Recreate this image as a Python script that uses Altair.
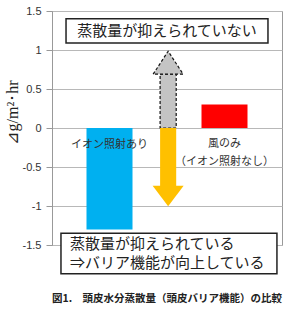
import altair as alt
import pandas as pd

# ---- data ----
categories = ["イオン照射あり", "風のみ"]
sublabel = "（イオン照射なし）"
values = [-1.3, 0.3]
colors = ["#00B0F0", "#FF0000"]
arrow_up = 1.0      # without-suppression reference arrow
arrow_down = -1.0   # suppression arrow
y_ticks = [-1.5, -1, -0.5, 0, 0.5, 1, 1.5]
top_note = "蒸散量が抑えられていない"
bottom_note = ["蒸散量が抑えられている", "⇒バリア機能が向上している"]
y_title = "⊿g/m²･hr"
caption = "図1.　頭皮水分蒸散量（頭皮バリア機能）の比較"

# ---- layout (x in a 0..10 layout scale) ----
bar_x = [2.5, 7.5]
bar_half = 1.0
arrow_x = 5.05
shaft_half = 0.35
up_head_base = 0.69
down_head_base = -0.74

JP = "Noto Sans CJK JP"

xs = alt.Scale(domain=[0, 10], nice=False, zero=False)
ys = alt.Scale(domain=[-1.5, 1.5], nice=False, zero=False)

bars_df = pd.DataFrame({
    "cat": categories, "v": values, "c": colors,
    "x1": [b - bar_half for b in bar_x], "x2": [b + bar_half for b in bar_x],
    "zero": [0, 0],
})

bars = alt.Chart(bars_df).mark_rect().encode(
    x=alt.X("x1:Q", scale=xs, axis=None),
    x2="x2:Q",
    y=alt.Y("zero:Q", scale=ys, title=y_title,
            axis=alt.Axis(values=y_ticks, tickCount=12, labelExpr="datum.value + ''",
                          labelOverlap=False, labelFlush=False,
                          grid=True, gridColor="#b8b8b8", domainColor="#999999",
                          tickColor="#999999", tickSize=6, labelPadding=5,
                          labelFont="Liberation Sans", labelFontSize=11,
                          labelColor="#333333", titleFont="Liberation Serif",
                          titleFontSize=16, titleFontWeight="normal",
                          titleColor="#222222", titleAngle=-90,
                          titleX=-40, titleY=101, titleAlign="center",
                          titleBaseline="middle")),
    y2="v:Q",
    color=alt.Color("c:N", scale=None),
)

# up (dashed, patterned) arrow
up_shaft_df = pd.DataFrame({"x1": [arrow_x - shaft_half], "x2": [arrow_x + shaft_half],
                            "y1": [0], "y2": [up_head_base]})
up_shaft = alt.Chart(up_shaft_df).mark_rect(
    fill="#c4c4c4", stroke="#111111", strokeDash=[3, 2], strokeWidth=1.2
).encode(x=alt.X("x1:Q", scale=xs), x2="x2:Q", y=alt.Y("y1:Q", scale=ys), y2="y2:Q")

up_head_df = pd.DataFrame({"x": [arrow_x], "y": [up_head_base]})
up_head = alt.Chart(up_head_df).mark_point(
    shape="M -1 0 L 0 -1.53 L 1 0 Z", size=900, filled=True, fill="#c4c4c4",
    stroke="#111111", strokeDash=[3, 2], strokeWidth=1.2, opacity=1
).encode(x=alt.X("x:Q", scale=xs), y=alt.Y("y:Q", scale=ys))

# down (orange) arrow
down_shaft_df = pd.DataFrame({"x1": [arrow_x - shaft_half], "x2": [arrow_x + shaft_half],
                              "y1": [0], "y2": [down_head_base - 0.01]})
down_shaft = alt.Chart(down_shaft_df).mark_rect(fill="#FFC000").encode(
    x=alt.X("x1:Q", scale=xs), x2="x2:Q", y=alt.Y("y1:Q", scale=ys), y2="y2:Q")

down_head_df = pd.DataFrame({"x": [arrow_x], "y": [down_head_base]})
down_head = alt.Chart(down_head_df).mark_point(
    shape="M -1 0 L 0 1.33 L 1 0 Z", size=961, filled=True, fill="#FFC000",
    strokeWidth=0, opacity=1
).encode(x=alt.X("x:Q", scale=xs), y=alt.Y("y:Q", scale=ys))

# category labels
lab_df = pd.DataFrame({"t": [categories[0], categories[1], sublabel],
                       "x": [bar_x[0], bar_x[1], bar_x[1]],
                       "y": [-0.22, -0.21, -0.43]})
labels = alt.Chart(lab_df).mark_text(font=JP, fontSize=11, color="#333333",
                                     align="center", baseline="middle").encode(
    x=alt.X("x:Q", scale=xs), y=alt.Y("y:Q", scale=ys), text="t:N")

# note boxes
box_df = pd.DataFrame({"x1": [0.61, 0.39], "x2": [9.39, 9.78],
                       "y1": [1.09, -1.35], "y2": [1.40, -1.87]})
boxes = alt.Chart(box_df).mark_rect(fill="white", stroke="#222222", strokeWidth=1.5).encode(
    x=alt.X("x1:Q", scale=xs), x2="x2:Q", y=alt.Y("y1:Q", scale=ys), y2="y2:Q")

note_df = pd.DataFrame({"t": [top_note], "x": [5.0], "y": [1.245]})
note_top = alt.Chart(note_df).mark_text(font=JP, fontSize=15, color="#222222",
                                        align="center", baseline="middle").encode(
    x=alt.X("x:Q", scale=xs), y=alt.Y("y:Q", scale=ys), text="t:N")

note2_df = pd.DataFrame({"t": bottom_note, "x": [0.78, 0.78], "y": [-1.49, -1.735]})
note_bot = alt.Chart(note2_df).mark_text(font=JP, fontSize=15, color="#222222",
                                         align="left", baseline="middle").encode(
    x=alt.X("x:Q", scale=xs), y=alt.Y("y:Q", scale=ys), text="t:N")

cap_df = pd.DataFrame({"t": [caption], "x": [0.0], "y": [-2.19]})
cap = alt.Chart(cap_df).mark_text(font=JP, fontSize=10.5, fontWeight="bold",
                                  color="#222222", align="left", baseline="middle").encode(
    x=alt.X("x:Q", scale=xs), y=alt.Y("y:Q", scale=ys), text="t:N")

chart = alt.layer(
    bars, up_shaft, up_head, down_shaft, down_head, labels,
    boxes, note_top, note_bot, cap
).properties(
    width=230, height=234,
    autosize=alt.AutoSizeParams(type="none"),
    padding={"left": 52, "top": 11, "right": 25, "bottom": 70},
    background="white",
).configure_view(stroke="#999999", strokeWidth=1)

chart.save("out.html", embed_options={"renderer": "svg", "actions": False})
